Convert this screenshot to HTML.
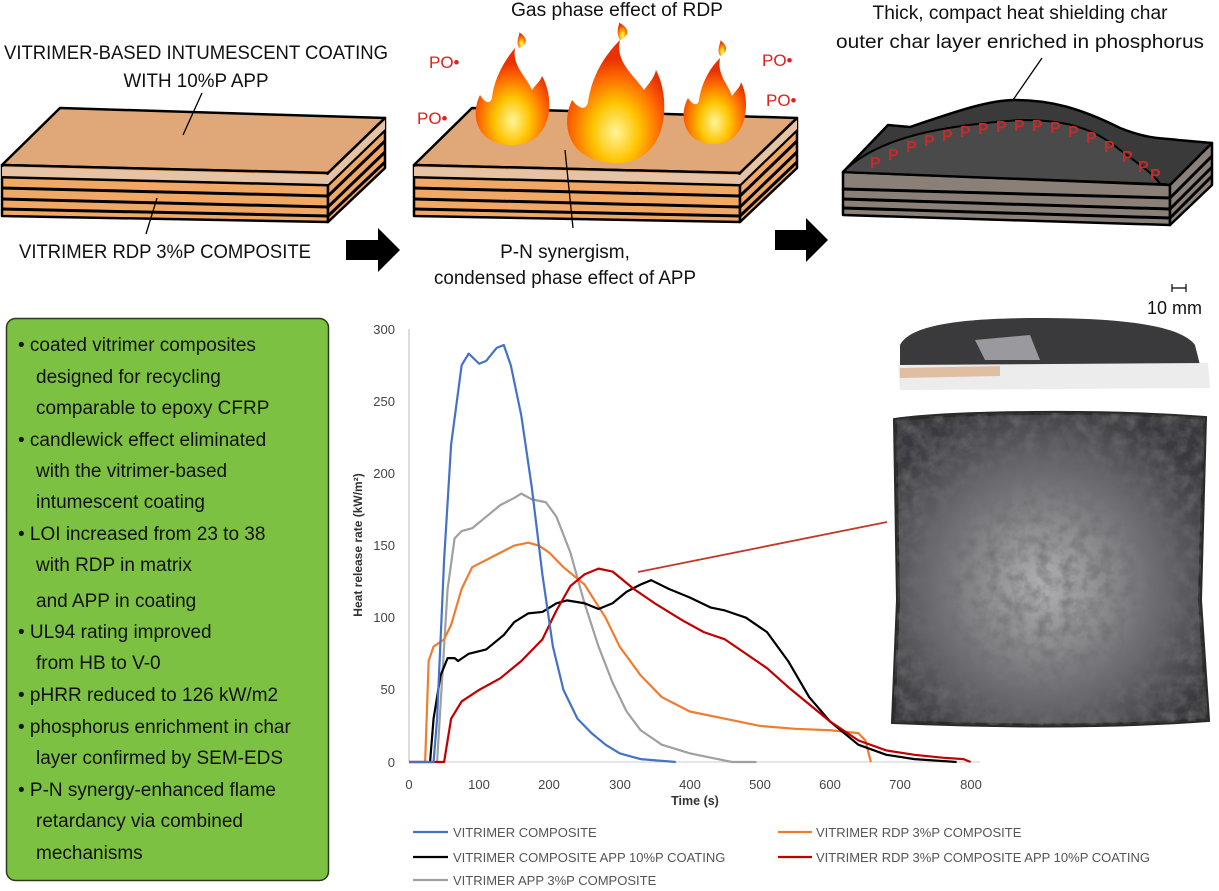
<!DOCTYPE html>
<html><head><meta charset="utf-8"><style>
body{margin:0;background:#fff;width:1219px;height:886px;overflow:hidden;font-family:"Liberation Sans",sans-serif}
</style></head><body>
<svg width="1219" height="886" viewBox="0 0 1219 886" xmlns="http://www.w3.org/2000/svg" font-family="Liberation Sans, sans-serif">
<defs>
<radialGradient id="fl" cx="50%" cy="75%" r="60%"><stop offset="0" stop-color="#fff59a"/><stop offset="0.4" stop-color="#ffc400"/><stop offset="0.75" stop-color="#ff6a00"/><stop offset="1" stop-color="#e83000"/></radialGradient>
<radialGradient id="sq" cx="48%" cy="55%" r="60%"><stop offset="0" stop-color="#b0b0b2"/><stop offset="0.5" stop-color="#78787c"/><stop offset="1" stop-color="#3a3a3e"/></radialGradient>
<filter id="noise"><feTurbulence type="fractalNoise" baseFrequency="0.08" numOctaves="3" seed="4"/><feColorMatrix values="0 0 0 0 0.15 0 0 0 0 0.15 0 0 0 0 0.16 0 0 0 1.4 -0.5"/><feComposite in2="SourceGraphic" operator="in"/></filter>
</defs>
<!-- slab 1 -->
<g stroke="#000" stroke-width="2.5" stroke-linejoin="round">
<polygon points="2,165 328,173 385,118 60,108" fill="#e0a878"/>
<polygon points="2,165 328,173 328,222 2,216" fill="#f2a865"/>
<polygon points="328,173 385,118 385,168 328,222" fill="#f2a865"/>
</g>
<g stroke="#000" stroke-width="3" fill="none">
<path d="M2,177 L328,185 L385,130"/><path d="M2,188 L328,196 L385,141"/><path d="M2,199 L328,207 L385,152"/><path d="M2,209 L328,216 L385,162"/>
</g>
<path d="M2,167 L328,175 L385,120 L385,129 L328,184 L2,176Z" fill="#e6c3a4"/>
<line x1="202" y1="93" x2="183" y2="135" stroke="#000" stroke-width="1.3"/>
<line x1="157" y1="198" x2="146" y2="234" stroke="#000" stroke-width="1.3"/>
<g font-size="19" fill="#111" text-anchor="middle">
<text x="196" y="59" textLength="384" lengthAdjust="spacingAndGlyphs">VITRIMER-BASED INTUMESCENT COATING</text>
<text x="196" y="87" textLength="145" lengthAdjust="spacingAndGlyphs">WITH 10%P APP</text>
<text x="165" y="258" textLength="292" lengthAdjust="spacingAndGlyphs">VITRIMER RDP 3%P COMPOSITE</text>
</g>
<!-- arrows -->
<polygon points="346,240 378,240 378,228 400,250 378,272 378,260 346,260" fill="#000"/>
<polygon points="775,230 806,230 806,218 828,240 806,262 806,250 775,250" fill="#000"/>
<!-- slab 2 -->
<g transform="translate(412,0)">
<g stroke="#000" stroke-width="2.5" stroke-linejoin="round">
<polygon points="2,165 328,173 385,118 60,108" fill="#e0a878"/>
<polygon points="2,165 328,173 328,222 2,216" fill="#f2a865"/>
<polygon points="328,173 385,118 385,168 328,222" fill="#f2a865"/>
</g>
<g stroke="#000" stroke-width="3" fill="none">
<path d="M2,177 L328,185 L385,130"/><path d="M2,188 L328,196 L385,141"/><path d="M2,199 L328,207 L385,152"/><path d="M2,209 L328,216 L385,162"/>
</g>
<path d="M2,167 L328,175 L385,120 L385,129 L328,184 L2,176Z" fill="#e6c3a4"/>
</g>
<!-- flames -->
<g fill="url(#fl)">
<path d="M512,145 C476,145 470,115 480,95 C486,104 490,104 492,98 C494,78 505,60 515,48 C512,66 526,76 532,90 C536,84 540,82 542,76 C556,100 552,145 512,145Z"/>
<path d="M617,163 C568,163 560,125 572,100 C580,110 586,110 588,102 C592,75 605,55 620,40 C615,62 634,75 644,90 C650,82 654,78 656,70 C672,100 668,163 617,163Z"/>
<path d="M714,144 C684,144 678,116 688,98 C693,106 698,106 699,100 C702,80 712,66 720,58 C717,75 728,84 732,96 C736,90 740,88 741,82 C752,104 746,144 714,144Z"/>
<path d="M519,48 C515,40 521,34 519,32 C528,38 528,44 519,48Z"/>
<path d="M620,40 C614,30 622,22 618,22 C630,28 630,36 620,40Z"/>
<path d="M720,56 C716,48 722,42 720,40 C728,46 728,52 720,56Z"/>
</g>
<line x1="565" y1="150" x2="573" y2="228" stroke="#000" stroke-width="1.3"/>
<g font-size="19" fill="#111" text-anchor="middle">
<text x="617" y="16" textLength="212" lengthAdjust="spacingAndGlyphs">Gas phase effect of RDP</text>
<text x="565" y="258">P-N synergism,</text>
<text x="565" y="284" textLength="262" lengthAdjust="spacingAndGlyphs">condensed phase effect of APP</text>
<text x="1020" y="19" textLength="295" lengthAdjust="spacingAndGlyphs">Thick, compact heat shielding char</text>
<text x="1020" y="48" textLength="368" lengthAdjust="spacingAndGlyphs">outer char layer enriched in phosphorus</text>
</g>
<g font-size="17" fill="#e0201c">
<text x="429" y="68">PO•</text><text x="417" y="124">PO•</text><text x="762" y="66">PO•</text><text x="766" y="106">PO•</text>
</g>
<!-- slab 3 -->
<g stroke="#000" stroke-width="2.5" stroke-linejoin="round">
<polygon points="843,172 1170,185 1170,225 843,215" fill="#8a8078"/>
<polygon points="1170,185 1212,143 1212,185 1170,225" fill="#8a8078"/>
<path d="M843,172 L888,125 L910,127 C960,110 990,100 1015,100 C1050,100 1080,108 1120,128 C1150,140 1165,138 1178,140 L1212,143 L1170,185 L1160,184Z" fill="#3a3a3a"/>
<path d="M843,172 C880,135 950,125 1020,120 C1060,120 1090,125 1120,150 C1140,165 1155,175 1160,184Z" fill="#4a4a4a" stroke-width="2"/>
</g>
<g stroke="#000" stroke-width="3" fill="none">
<path d="M843,189 L1170,198 L1212,156"/><path d="M843,199 L1170,209 L1212,167"/><path d="M843,208 L1170,218 L1212,176"/>
</g>
<g font-size="16" font-weight="bold" fill="#c62a2a">
<text x="870" y="168">P</text><text x="888" y="160">P</text><text x="906" y="152">P</text><text x="924" y="146">P</text><text x="942" y="141">P</text><text x="960" y="137">P</text><text x="978" y="134">P</text><text x="996" y="132">P</text><text x="1014" y="131">P</text><text x="1032" y="131">P</text><text x="1050" y="133">P</text><text x="1068" y="137">P</text><text x="1086" y="143">P</text><text x="1104" y="152">P</text><text x="1122" y="162">P</text><text x="1138" y="172">P</text><text x="1150" y="180">P</text>
</g>
<line x1="1042" y1="58" x2="1013" y2="100" stroke="#000" stroke-width="1.3"/>
<!-- scale -->
<path d="M1172,284 V292 M1172,288 H1186 M1186,284 V292" stroke="#000" stroke-width="1.2" fill="none"/>
<text x="1147" y="314" font-size="18" fill="#111">10 mm</text>
<!-- photos -->
<path d="M900,345 C910,325 960,318 1040,318 C1120,318 1180,325 1195,345 L1200,365 L900,365Z" fill="#3a3a3c"/>
<path d="M975,340 L1030,335 L1040,360 L985,360Z" fill="#9a9a9e"/>
<path d="M898,365 L1208,363 L1210,388 L900,390Z" fill="#ececec"/>
<path d="M900,368 L1000,366 L1000,376 L900,378Z" fill="#d9a070" opacity="0.6"/>
<path d="M895,420 C950,412 1100,410 1205,418 L1200,600 L1208,720 C1100,728 990,726 893,722 L898,600Z" fill="url(#sq)" stroke="#2a2a2a" stroke-width="4"/>
<path d="M895,420 C950,412 1100,410 1205,418 L1200,600 L1208,720 C1100,728 990,726 893,722 L898,600Z" fill="#000" filter="url(#noise)"/>
<!-- green box -->
<rect x="6.5" y="318.5" width="322" height="562" rx="9" fill="#7cc142" stroke="#2a3a1a" stroke-width="1.5"/>
<g font-size="19" fill="#111">
<text x="18" y="351">• coated vitrimer composites</text>
<text x="36" y="383">designed for recycling</text>
<text x="36" y="414">comparable to epoxy CFRP</text>
<text x="18" y="446">• candlewick effect eliminated</text>
<text x="36" y="477">with the vitrimer-based</text>
<text x="36" y="508">intumescent coating</text>
<text x="18" y="540">• LOI increased from 23 to 38</text>
<text x="36" y="571">with RDP in matrix</text>
<text x="36" y="607">and APP in coating</text>
<text x="18" y="638">• UL94 rating improved</text>
<text x="36" y="669">from HB to V-0</text>
<text x="18" y="701">• pHRR reduced to 126 kW/m2</text>
<text x="18" y="733">• phosphorus enrichment in char</text>
<text x="36" y="764">layer confirmed by SEM-EDS</text>
<text x="18" y="796">• P-N synergy-enhanced flame</text>
<text x="36" y="827">retardancy via combined</text>
<text x="36" y="859">mechanisms</text>
</g>
<!-- chart -->
<line x1="409" y1="329" x2="409" y2="762" stroke="#bbb" stroke-width="1"/>
<line x1="409" y1="762" x2="980" y2="762" stroke="#ccc" stroke-width="1"/>
<g font-size="13" fill="#444" text-anchor="end">
<text x="395" y="767">0</text><text x="395" y="694">50</text><text x="395" y="622">100</text><text x="395" y="550">150</text><text x="395" y="478">200</text><text x="395" y="406">250</text><text x="395" y="334">300</text>
</g>
<g font-size="13" fill="#444" text-anchor="middle">
<text x="409" y="789">0</text><text x="479" y="789">100</text><text x="549" y="789">200</text><text x="620" y="789">300</text><text x="690" y="789">400</text><text x="760" y="789">500</text><text x="830" y="789">600</text><text x="900" y="789">700</text><text x="971" y="789">800</text>
</g>
<text x="695" y="805" font-size="12.5" font-weight="bold" fill="#333" text-anchor="middle">Time (s)</text>
<text transform="translate(362,545) rotate(-90)" font-size="12" font-weight="bold" fill="#333" text-anchor="middle">Heat release rate (kW/m²)</text>
<g transform="translate(409,762) scale(0.702,-1.443)" fill="none" stroke-width="2.2" stroke-linejoin="round">
<polyline vector-effect="non-scaling-stroke" stroke="#a0a0a0" points="40,0 45,40 55,120 65,155 75,160 90,162 110,170 130,178 150,183 160,186 175,182 195,180 210,170 230,145 250,110 270,80 290,55 310,35 330,22 360,12 400,6 430,3 460,0 495,0"/>
<polyline vector-effect="non-scaling-stroke" stroke="#ed7d31" points="0,0 23,0 28,70 35,80 50,85 60,95 75,120 90,135 110,140 130,145 150,150 170,152 185,150 200,145 220,135 250,123 280,100 300,80 330,60 360,45 400,35 450,30 500,25 550,23 600,22 640,20 650,15 658,0"/>
<polyline vector-effect="non-scaling-stroke" stroke="#000" points="30,0 35,30 45,60 55,72 65,72 70,70 85,75 110,78 135,88 150,97 170,103 190,104 210,110 225,112 250,110 270,106 290,110 310,118 330,123 345,126 370,120 400,114 430,107 450,105 480,100 510,90 540,70 570,45 600,28 640,12 680,5 720,2 780,0"/>
<polyline vector-effect="non-scaling-stroke" stroke="#c00000" points="0,0 50,0 60,30 75,42 100,50 130,58 160,70 190,85 210,105 230,122 250,130 270,134 290,132 320,120 350,110 390,98 420,90 450,85 480,75 510,65 540,52 570,40 600,28 640,15 680,8 720,5 760,3 790,2 800,0"/>
<polyline vector-effect="non-scaling-stroke" stroke="#4472c4" points="0,0 35,0 40,30 50,140 60,220 75,275 85,283 100,276 110,278 125,287 135,289 145,275 160,240 175,190 190,130 205,80 220,50 240,30 260,20 280,12 300,6 330,2 380,0"/>
</g>
<line x1="638" y1="572" x2="887" y2="522" stroke="#c0392b" stroke-width="1.8"/>
<!-- legend -->
<g stroke-width="2.2">
<line x1="413" y1="832" x2="448" y2="832" stroke="#4472c4"/>
<line x1="778" y1="832" x2="812" y2="832" stroke="#ed7d31"/>
<line x1="413" y1="857" x2="448" y2="857" stroke="#000"/>
<line x1="778" y1="857" x2="812" y2="857" stroke="#c00000"/>
<line x1="413" y1="880" x2="448" y2="880" stroke="#a0a0a0"/>
</g>
<g font-size="13" fill="#555">
<text x="453" y="837">VITRIMER COMPOSITE</text>
<text x="816" y="837">VITRIMER RDP 3%P COMPOSITE</text>
<text x="453" y="862">VITRIMER COMPOSITE APP 10%P COATING</text>
<text x="816" y="862">VITRIMER RDP 3%P COMPOSITE APP 10%P COATING</text>
<text x="453" y="885">VITRIMER APP 3%P COMPOSITE</text>
</g>
</svg>
</body></html>
